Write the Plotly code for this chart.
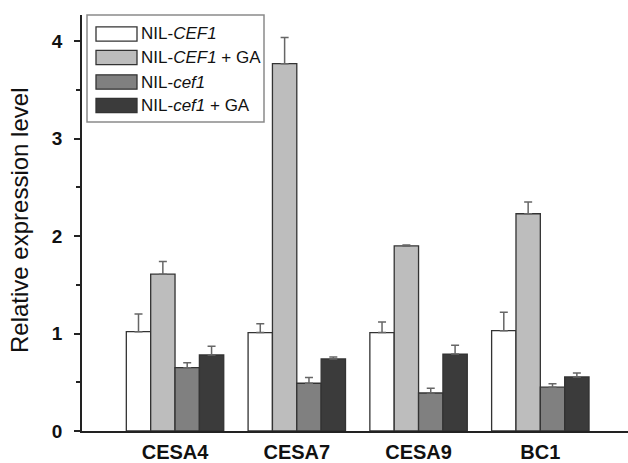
import plotly.graph_objects as go

genes = ["CESA4", "CESA7", "CESA9", "BC1"]
series_names = ["NIL-<i>CEF1</i>", "NIL-<i>CEF1</i> + GA", "NIL-<i>cef1</i>", "NIL-<i>cef1</i> + GA"]
nil_CEF1 = [1.02, 1.01, 1.01, 1.03]
nil_CEF1_GA = [1.61, 3.77, 1.90, 2.23]
nil_cef1 = [0.65, 0.49, 0.39, 0.45]
nil_cef1_GA = [0.78, 0.74, 0.79, 0.555]
err_CEF1 = [0.18, 0.09, 0.11, 0.19]
err_CEF1_GA = [0.13, 0.27, 0.01, 0.12]
err_cef1 = [0.05, 0.06, 0.05, 0.035]
err_cef1_GA = [0.09, 0.02, 0.09, 0.04]
y_ticks = [0, 1, 2, 3, 4]

values = [nil_CEF1, nil_CEF1_GA, nil_cef1, nil_cef1_GA]
errors = [err_CEF1, err_CEF1_GA, err_cef1, err_cef1_GA]
colors = ["#ffffff", "#bdbdbd", "#808080", "#3b3b3b"]

FONT = "Liberation Sans, Arial, sans-serif"

fig = go.Figure()
for name, vals, errs, col in zip(series_names, values, errors, colors):
    fig.add_trace(go.Bar(
        x=genes, y=vals, name=name,
        marker=dict(color=col, line=dict(color="#333333", width=1.3)),
        error_y=dict(type="data", array=errs, arrayminus=[0] * len(errs),
                     symmetric=False, color="#666666", thickness=1.5, width=4),
        showlegend=False,
    ))

# Manual legend (box, swatches, labels) in paper coordinates
W, H = 628, 463
ml, mr, mt, mb = 82, 0, 15, 32
pw, ph = W - ml - mr, H - mt - mb
def px(x):
    return (x - ml) / pw
def py(y):
    return (H - mb - y) / ph

shapes = [dict(type="rect", xref="paper", yref="paper",
               x0=px(87), x1=px(264), y0=py(122), y1=py(15),
               line=dict(color="#8a8a8a", width=1.5), fillcolor="rgba(0,0,0,0)")]
annotations = []
row_centers = [34, 57.5, 82, 105.5]
for name, col, cy in zip(series_names, colors, row_centers):
    shapes.append(dict(type="rect", xref="paper", yref="paper",
                       x0=px(96), x1=px(137), y0=py(cy + 7.2), y1=py(cy - 7.2),
                       line=dict(color="#333333", width=1.3), fillcolor=col))
    annotations.append(dict(xref="paper", yref="paper", x=px(139), y=py(cy),
                            xanchor="left", yanchor="middle", showarrow=False,
                            text=name, font=dict(family=FONT, size=17, color="#111111")))

# y-axis title as a rotated annotation
annotations.append(dict(xref="paper", yref="paper", x=px(19), y=py(221),
                        xanchor="center", yanchor="middle", showarrow=False, textangle=-90,
                        text="Relative expression level",
                        font=dict(family=FONT, size=24, color="#111111")))

fig.update_layout(
    width=W, height=H,
    margin=dict(l=ml, r=mr, t=mt, b=mb, autoexpand=False),
    paper_bgcolor="white", plot_bgcolor="white",
    barmode="group", bargap=0.2, bargroupgap=0,
    font=dict(family=FONT, color="#111111"),
    shapes=shapes, annotations=annotations,
    xaxis=dict(range=[-0.764, 3.72], showline=True, linecolor="#222222", linewidth=1.5,
               ticks="", showgrid=False, zeroline=False, automargin=False,
               tickvals=genes, ticktext=[f"<b>{g}</b>" for g in genes],
               tickfont=dict(family=FONT, size=20, color="#111111"),
               ticklabelstandoff=2),
    yaxis=dict(range=[0, 4.27], showline=True, linecolor="#222222", linewidth=1.5,
               tickvals=y_ticks, ticktext=[f"<b>{t}</b>" for t in y_ticks],
               ticks="outside", ticklen=6, tickwidth=1.5, tickcolor="#222222",
               minor=dict(dtick=0.5, ticks="outside", ticklen=4, tickwidth=1.5, tickcolor="#222222"),
               showgrid=False, zeroline=False, automargin=False,
               tickfont=dict(family=FONT, size=19, color="#111111"),
               ticklabelstandoff=8),
)

fig.write_html("out.html", config={"displayModeBar": False},
               post_script="document.body.style.margin='0';document.body.style.overflow='hidden';")
